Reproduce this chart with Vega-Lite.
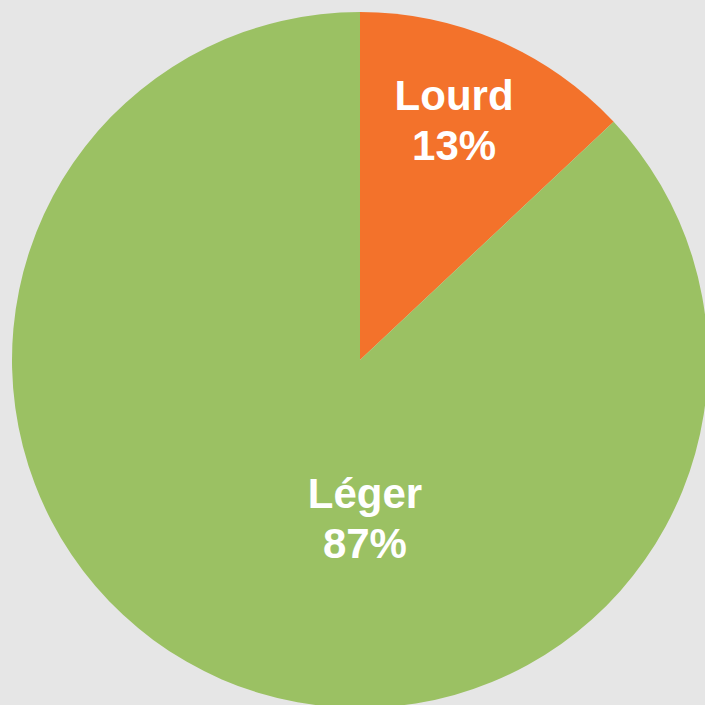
{
  "$schema": "https://vega.github.io/schema/vega-lite/v6.json",
  "width": 720,
  "height": 720,
  "autosize": {"type": "none"},
  "padding": 0,
  "background": "#e6e6e6",
  "config": {"view": {"stroke": null}},
  "data": {
    "values": [
      {"cat": "Lourd", "value": 13, "label": "Lourd\n13%", "ord": 1},
      {"cat": "Léger", "value": 87, "label": "Léger\n87%", "ord": 2}
    ]
  },
  "layer": [
    {
      "mark": {"type": "arc", "radius": 348, "stroke": null},
      "encoding": {
        "theta": {"field": "value", "type": "quantitative", "stack": true},
        "order": {"field": "ord", "type": "quantitative"},
        "color": {
          "field": "cat",
          "type": "nominal",
          "scale": {"domain": ["Lourd", "Léger"], "range": ["#f3722b", "#9bc163"]},
          "legend": null
        }
      }
    },
    {
      "transform": [{"filter": "datum.cat === 'Lourd'"}],
      "mark": {"type": "text", "theta": 0.344, "radius": 279, "font": "Liberation Sans", "fontWeight": "bold", "fontSize": 42, "lineHeight": 50, "lineBreak": "\n", "color": "white", "align": "center", "baseline": "middle"},
      "encoding": {"text": {"field": "label"}}
    },
    {
      "transform": [{"filter": "datum.cat === 'Léger'"}],
      "mark": {"type": "text", "theta": 3.105, "radius": 135, "font": "Liberation Sans", "fontWeight": "bold", "fontSize": 42, "lineHeight": 50, "lineBreak": "\n", "color": "white", "align": "center", "baseline": "middle"},
      "encoding": {"text": {"field": "label"}}
    }
  ]
}
